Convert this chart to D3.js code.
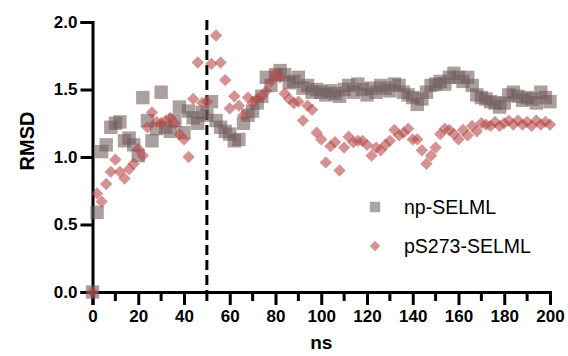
<!DOCTYPE html>
<html>
<head>
<meta charset="utf-8">
<script src="https://cdn.jsdelivr.net/npm/d3@7"></script>
<style>
  body { margin: 0; background: #fff; }
  text { font-family: "Liberation Sans", Arial, sans-serif; }
</style>
</head>
<body>
<svg id="rmsd-chart" width="568" height="356"></svg>
<script>
// time points every 2 ns
const timeNs = d3.range(0, 201, 2);

const npSelml = [
  0, 0.59, 1.04, 1.09, 1.22, 1.25, 1.26, 1.12, 1.14, 1.09, 1.01,
  1.44, 1.27, 1.12, 1.21, 1.48, 1.22, 1.19, 1.27, 1.37, 1.18,
  1.34, 1.29, 1.25, 1.33, 1.31, 1.41, 1.27, 1.22, 1.19, 1.17,
  1.12, 1.13, 1.25, 1.31, 1.34, 1.40, 1.45, 1.59, 1.53, 1.61,
  1.64, 1.61, 1.55, 1.56, 1.59, 1.51, 1.53, 1.48, 1.50, 1.48,
  1.46, 1.49, 1.47, 1.45, 1.50, 1.53, 1.48, 1.54, 1.50, 1.46,
  1.51, 1.48, 1.53, 1.51, 1.49, 1.54, 1.53, 1.48, 1.46, 1.44,
  1.39, 1.43, 1.48, 1.53, 1.54, 1.56, 1.54, 1.59, 1.62, 1.59,
  1.56, 1.59, 1.53, 1.46, 1.44, 1.43, 1.41, 1.40, 1.37, 1.40,
  1.46, 1.48, 1.45, 1.42, 1.44, 1.43, 1.40, 1.48, 1.44, 1.41
];

const pS273Selml = [
  0, 0.73, 0.67, 0.80, 0.89, 0.98, 0.89, 0.84, 0.91, 0.95, 1.06,
  1.01, 1.22, 1.33, 1.26, 1.25, 1.27, 1.29, 1.25, 1.17, 1.13,
  1.00, 1.43, 1.70, 1.40, 1.41, 1.69, 1.90, 1.70, 1.57, 1.36,
  1.45, 1.38, 1.31, 1.44, 1.40, 1.43, 1.45, 1.49, 1.56, 1.61,
  1.59, 1.47, 1.43, 1.40, 1.41, 1.27, 1.38, 1.35, 1.18, 1.13,
  0.96, 1.08, 1.11, 0.90, 1.07, 1.15, 1.11, 1.12, 1.12, 1.09,
  1.01, 1.07, 1.05, 1.09, 1.12, 1.20, 1.16, 1.18, 1.21, 1.13,
  1.13, 1.05, 0.95, 1.01, 1.07, 1.17, 1.21, 1.20, 1.17, 1.13,
  1.20, 1.16, 1.23, 1.19, 1.25, 1.24, 1.23, 1.26, 1.23, 1.25,
  1.27, 1.24, 1.27, 1.24, 1.26, 1.23, 1.27, 1.24, 1.26, 1.24
];

const xTicks = d3.range(0, 201, 20);
const xMinorTicks = d3.range(10, 200, 20);
const yTicks = [0, 0.5, 1.0, 1.5, 2.0];
const seriesNames = ["np-SELML", "pS273-SELML"];
const dashTime = 50;

const svg = d3.select("#rmsd-chart");

const x = d3.scaleLinear().domain([0, 200]).range([92.5, 550]);
const y = d3.scaleLinear().domain([0, 2]).range([292, 22]);

const squareColor = "#6e5a5a";
const diamondColor = "#b84a4a";

// axes
const xAxis = svg.append("g")
    .attr("transform", "translate(0," + y(0) + ")")
    .call(d3.axisBottom(x).tickValues(xTicks).tickSize(13).tickPadding(5).tickFormat(d3.format("d")));

xAxis.append("g")
    .selectAll("line")
    .data(xMinorTicks)
    .enter()
    .append("line")
    .attr("x1", d => x(d))
    .attr("x2", d => x(d))
    .attr("y1", 0)
    .attr("y2", 9)
    .attr("stroke", "#000")
    .attr("stroke-width", 3);

const yAxis = svg.append("g")
    .attr("transform", "translate(" + x(0) + ",0)")
    .call(d3.axisLeft(y).tickValues(yTicks).tickSize(12).tickPadding(3).tickFormat(d3.format(".1f")));

[xAxis, yAxis].forEach(ax => {
  ax.select(".domain").attr("stroke", "#000").attr("stroke-width", 3);
  ax.selectAll(".tick line").attr("stroke", "#000").attr("stroke-width", 3);
  ax.selectAll(".tick text")
      .attr("fill", "#000")
      .style("font-size", "17px")
      .style("font-weight", "bold")
      .style("font-family", "'Liberation Sans', Arial, sans-serif");
});

// dashed line at 50 ns
svg.append("line")
    .attr("x1", x(dashTime))
    .attr("x2", x(dashTime))
    .attr("y1", 20)
    .attr("y2", y(0))
    .attr("stroke", "#000")
    .attr("stroke-width", 3)
    .attr("stroke-dasharray", "10,5");

// points
const squareSym = d3.symbol().type(d3.symbolSquare).size(180);
const diamondSym = d3.symbol().type(d3.symbolSquare).size(76);

svg.append("g")
    .selectAll("path")
    .data(npSelml)
    .enter()
    .append("path")
    .attr("d", squareSym)
    .attr("transform", (d, i) => "translate(" + x(timeNs[i]) + "," + y(d) + ")")
    .attr("fill", squareColor)
    .attr("fill-opacity", 0.58);

svg.append("g")
    .selectAll("path")
    .data(pS273Selml)
    .enter()
    .append("path")
    .attr("d", diamondSym)
    .attr("transform", (d, i) => "translate(" + x(timeNs[i]) + "," + y(d) + ") rotate(45)")
    .attr("fill", diamondColor)
    .attr("fill-opacity", 0.6);

// axis titles
svg.append("text")
    .attr("transform", "translate(34,141) rotate(-90)")
    .attr("text-anchor", "middle")
    .style("font-size", "20px")
    .style("font-weight", "bold")
    .text("RMSD");

svg.append("text")
    .attr("x", (x(0) + x(200)) / 2)
    .attr("y", 349)
    .attr("text-anchor", "middle")
    .style("font-size", "19px")
    .style("font-weight", "bold")
    .text("ns");

// legend
const legend = svg.append("g");
legend.append("path")
    .attr("d", d3.symbol().type(d3.symbolSquare).size(110))
    .attr("transform", "translate(375,207)")
    .attr("fill", squareColor)
    .attr("fill-opacity", 0.55);
legend.append("path")
    .attr("d", d3.symbol().type(d3.symbolSquare).size(55))
    .attr("transform", "translate(375,246) rotate(45)")
    .attr("fill", diamondColor)
    .attr("fill-opacity", 0.6);
legend.selectAll("text")
    .data(seriesNames)
    .enter()
    .append("text")
    .attr("x", 404)
    .attr("y", (d, i) => 214 + i * 39)
    .style("font-size", "19.5px")
    .text(d => d);
</script>
</body>
</html>
